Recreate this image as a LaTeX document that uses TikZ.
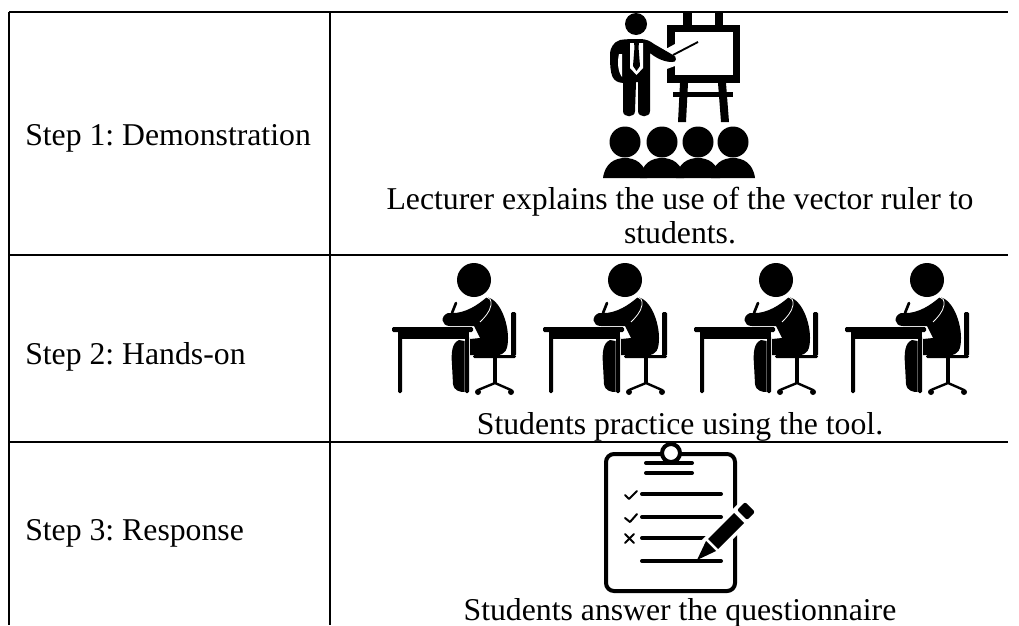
\documentclass[tikz,border=0pt]{standalone}
\usepackage{fontspec}
\setmainfont{Liberation Serif}
\frenchspacing
\tikzset{
 rule/.style={line width=1.6pt,black},
 thinrule/.style={line width=0.8pt,black},
 cell/.style={inner sep=0pt,font=\fontsize{23.8pt}{28pt}\selectfont,text=black},
 inkline/.style={draw=black,line cap=round,line join=round},
}
\newcommand{\student}[1]{%
 \begin{scope}[shift={(#1,0)}]
  \fill[black] (474,280) circle (17);
  % body with arm
  \fill[black] (487,297) .. controls (500,300) and (508,322) .. (508,338) .. controls (508,350) and (505,355) .. (497,355) -- (470,355) -- (470,339) -- (480,338) -- (474,326) -- (450,326) .. controls (441,326) and (440,316) .. (448,313) .. controls (460,314) and (472,310) .. (487,297) -- cycle;
  \draw[white,line width=0.6pt] (479,302) .. controls (483,295) and (492,295) .. (491,305) .. controls (490,312) and (484,318) .. (480,322);
  % pen
  \draw[inkline,line width=2pt] (452,313) -- (456,303);
  % desk
  \fill[black,rounded corners=1pt] (392,327) rectangle (473,332);
  \fill[black] (398,332) rectangle (469,339);
  \fill[black,rounded corners=1pt] (398,336) rectangle (402,393);
  \fill[black,rounded corners=1pt] (465,336) rectangle (469,393);
  % leg
  \fill[black] (459,340) .. controls (452,343) and (451,352) .. (452,365) -- (453,384) .. controls (454,391) and (460,392) .. (464.5,392) -- (464.5,341) -- cycle;
  % chair
  \fill[black,rounded corners=1pt] (511,312) rectangle (516,356);
  \fill[black,rounded corners=1pt] (473,355) rectangle (516,358);
  \fill[black] (493,358) rectangle (497,384);
  \draw[inkline,line width=1.8pt] (478,390) -- (495,383) -- (511,390);
  \fill[black] (478,392) circle (3) (511,392) circle (3);
 \end{scope}}
\begin{document}
\begin{tikzpicture}[x=0.75pt,y=-0.75pt]
\useasboundingbox (0,0) rectangle (1019,625);
\fill[white] (0,0) rectangle (1019,625);
% grid
\coordinate (tl) at (9,12); \coordinate (tr) at (1008,12);
\coordinate (bl) at (9,625);
\coordinate (tm) at (330,12); \coordinate (bm) at (330,625);
\coordinate (r1l) at (9,255); \coordinate (r1a) at (380,255); \coordinate (r1b) at (979,255); \coordinate (r1r) at (1008,255);
\coordinate (r2l) at (9,442); \coordinate (r2r) at (1008,442);
\draw[rule] (tl) -- (tr);
\draw[rule] (tl) -- (bl);
\draw[rule] (tm) -- (bm);
\draw[rule] (r1l) -- (r1a);
\draw[thinrule] (r1a) -- (r1b);
\draw[rule] (r1b) -- (r1r);
\draw[rule] (r2l) -- (r2r);
% left column
\node[cell,anchor=base west] (s1) at (25,145) {Step 1: Demonstration};
\node[cell,anchor=base west] (s2) at (25,364) {Step 2: Hands-on};
\node[cell,anchor=base west] (s3) at (25,540) {Step 3: Response};
% captions
\node[cell,anchor=base] (c1) at (680,209) {Lecturer explains the use of the vector ruler to};
\node[cell,anchor=base] (c1b) at (680,243) {students.};
\node[cell,anchor=base] (c2) at (680,434) {Students practice using the tool.};
\node[cell,anchor=base] (c3) at (680,620) {Students answer the questionnaire};
% easel
\draw[black,line width=5.6pt] (671,28.5) rectangle (736.5,79);
\fill[black] (683,13) rectangle (692,25);
\fill[black] (715,13) rectangle (723,25);
\fill[black] (673,92) rectangle (733,97);
\fill[black] (680,83) -- (688,83) -- (686,122) -- (678,122) -- cycle;
\fill[black] (718,83) -- (726,83) -- (729,122) -- (721,122) -- cycle;
% gap in the board behind the arm
\fill[white] (664,50) -- (675,44) -- (675,66) -- (664,70) -- cycle;
% presenter
\fill[black] (636,24) circle (11);
\fill[black] (620,40) .. controls (626,39) and (632,39) .. (640,39) .. controls (646,39) and (650,41) .. (654,44) -- (673,55) .. controls (677,56) and (677,63) .. (672,62) .. controls (664,62) and (656,58) .. (650,53) -- (650,111) .. controls (650,118) and (638,118) .. (638,111) -- (638,82) -- (636,82) -- (635,111) .. controls (635,118) and (623,118) .. (623,111) -- (623,83) .. controls (612,82) and (610,76) .. (610,55) .. controls (610,47) and (614,42) .. (620,40) -- cycle;
\fill[white] (619,54) .. controls (617,62) and (618,72) .. (622,77) -- (622,54) -- cycle;
\fill[white] (630,43) -- (643,43) -- (643,68) -- (636.5,75) -- (630,68) -- cycle;
\fill[black] (634,43) -- (639,43) -- (638.5,47) -- (640,66) -- (636.5,71) -- (633,66) -- (634.5,47) -- cycle;
\draw[black,line width=1.4pt] (673,55) -- (698,42);
% audience
\foreach \cx in {625,662,698,733} {
 \fill[black] (\cx,142) circle (15.5);
 \fill[black] (\cx-22,178) .. controls (\cx-20,163) and (\cx-10,158) .. (\cx,158) .. controls (\cx+10,158) and (\cx+20,163) .. (\cx+22,178) -- cycle;
}
% students
\student{0}
\student{151}
\student{302}
\student{453}
% clipboard
\draw[black,line width=3pt,rounded corners=6pt,fill=white] (606,454) rectangle (735,591);
\draw[black,line width=3pt,fill=white] (671,453) circle (9);
\foreach \yy/\xa/\xb in {463/646/692,473/646/692,494/642/721,517/642/721,538/642/721}
 \draw[inkline,line width=3pt] (\xa,\yy) -- (\xb,\yy);
\draw[inkline,line width=1.5pt] (625,495) -- (629,499) -- (637,491);
\draw[inkline,line width=1.5pt] (625,518) -- (630,522) -- (637,514);
\draw[inkline,line width=1.5pt] (625,534) -- (634,543) (634,534) -- (625,543);
% pencil
\draw[white,line width=16pt] (703,554) -- (750,507);
\draw[inkline,line width=3pt] (642,561) -- (721,561);
\fill[black] (697,560) -- (706,541) -- (716,551) -- cycle;
\fill[black] (708,539) -- (718,549) -- (744,523) -- (734,513) -- cycle;
\fill[black,rounded corners=1.5pt] (737,510) -- (747,520) -- (755,512) -- (745,502) -- cycle;
\end{tikzpicture}
\end{document}
